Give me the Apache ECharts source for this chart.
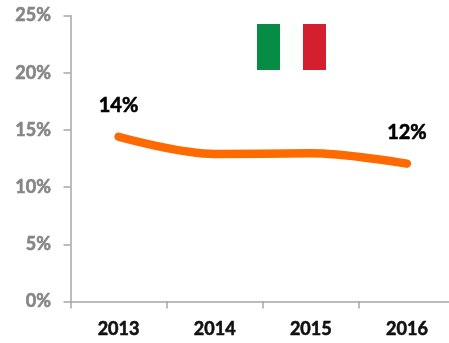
<!DOCTYPE html>
<html><head><meta charset="utf-8">
<style>html,body{margin:0;padding:0;background:#fff;overflow:hidden;width:449px;height:343px}#c{width:460px;height:343px}</style>
<script src="https://cdn.jsdelivr.net/npm/echarts@6/dist/echarts.min.js"></script>
</head><body><div id="c"></div>
<script>
const categories = ['2013','2014','2015','2016'];
const values = [14.4, 12.9, 12.95, 12.05];
const labels = ['14%','','','12%'];
const yTicks = {min:0,max:25,interval:5};
const flagColors = ['#078c45','#fdfffd','#d4202e'];
const chart = echarts.init(document.getElementById('c'),null,{renderer:'canvas'});
const axisColor = '#a6a6a6';
chart.setOption({
  animation:false,
  backgroundColor:'#ffffff',
  grid:{left:70.5,right:5,top:15.5,bottom:41.5,containLabel:false},
  xAxis:{type:'category',data:categories,boundaryGap:true,
    axisLine:{lineStyle:{color:axisColor,width:1.5}},
    axisTick:{show:true,alignWithLabel:false,length:7,lineStyle:{color:axisColor,width:1.5}},
    axisLabel:{color:'#111',fontFamily:'Lato',fontWeight:'bold',fontSize:18,margin:19,hideOverlap:false,textBorderColor:'#111',textBorderWidth:0.6},
    splitLine:{show:false}},
  yAxis:{type:'value',min:yTicks.min,max:yTicks.max,interval:yTicks.interval,
    axisLine:{show:true,lineStyle:{color:axisColor,width:1.5}},
    axisTick:{show:true,length:7,lineStyle:{color:axisColor,width:1.5}},
    axisLabel:{color:'#868686',fontFamily:'Lato',fontWeight:'bold',fontSize:18,margin:19.5,formatter:'{value}%',textBorderColor:'#868686',textBorderWidth:0.6},
    splitLine:{show:false}},
  series:[{type:'line',data:values,smooth:0.35,showSymbol:true,symbol:'circle',symbolSize:1,
    itemStyle:{color:'#ff6a00',opacity:0},
    lineStyle:{color:'#ff6a00',width:8.5,cap:'round',join:'round'},
    label:{show:true,position:'top',distance:21,color:'#000',fontFamily:'Lato',fontWeight:'bold',fontSize:20,
      textBorderColor:'#000',textBorderWidth:0.6,opacity:1,formatter:p=>labels[p.dataIndex]},
    labelLayout:{hideOverlap:false}}],
  graphic:flagColors.map((c,i)=>({type:'rect',shape:{x:257+i*23,y:24,width:23,height:46},style:{fill:c},silent:true}))
});
</script></body></html>
